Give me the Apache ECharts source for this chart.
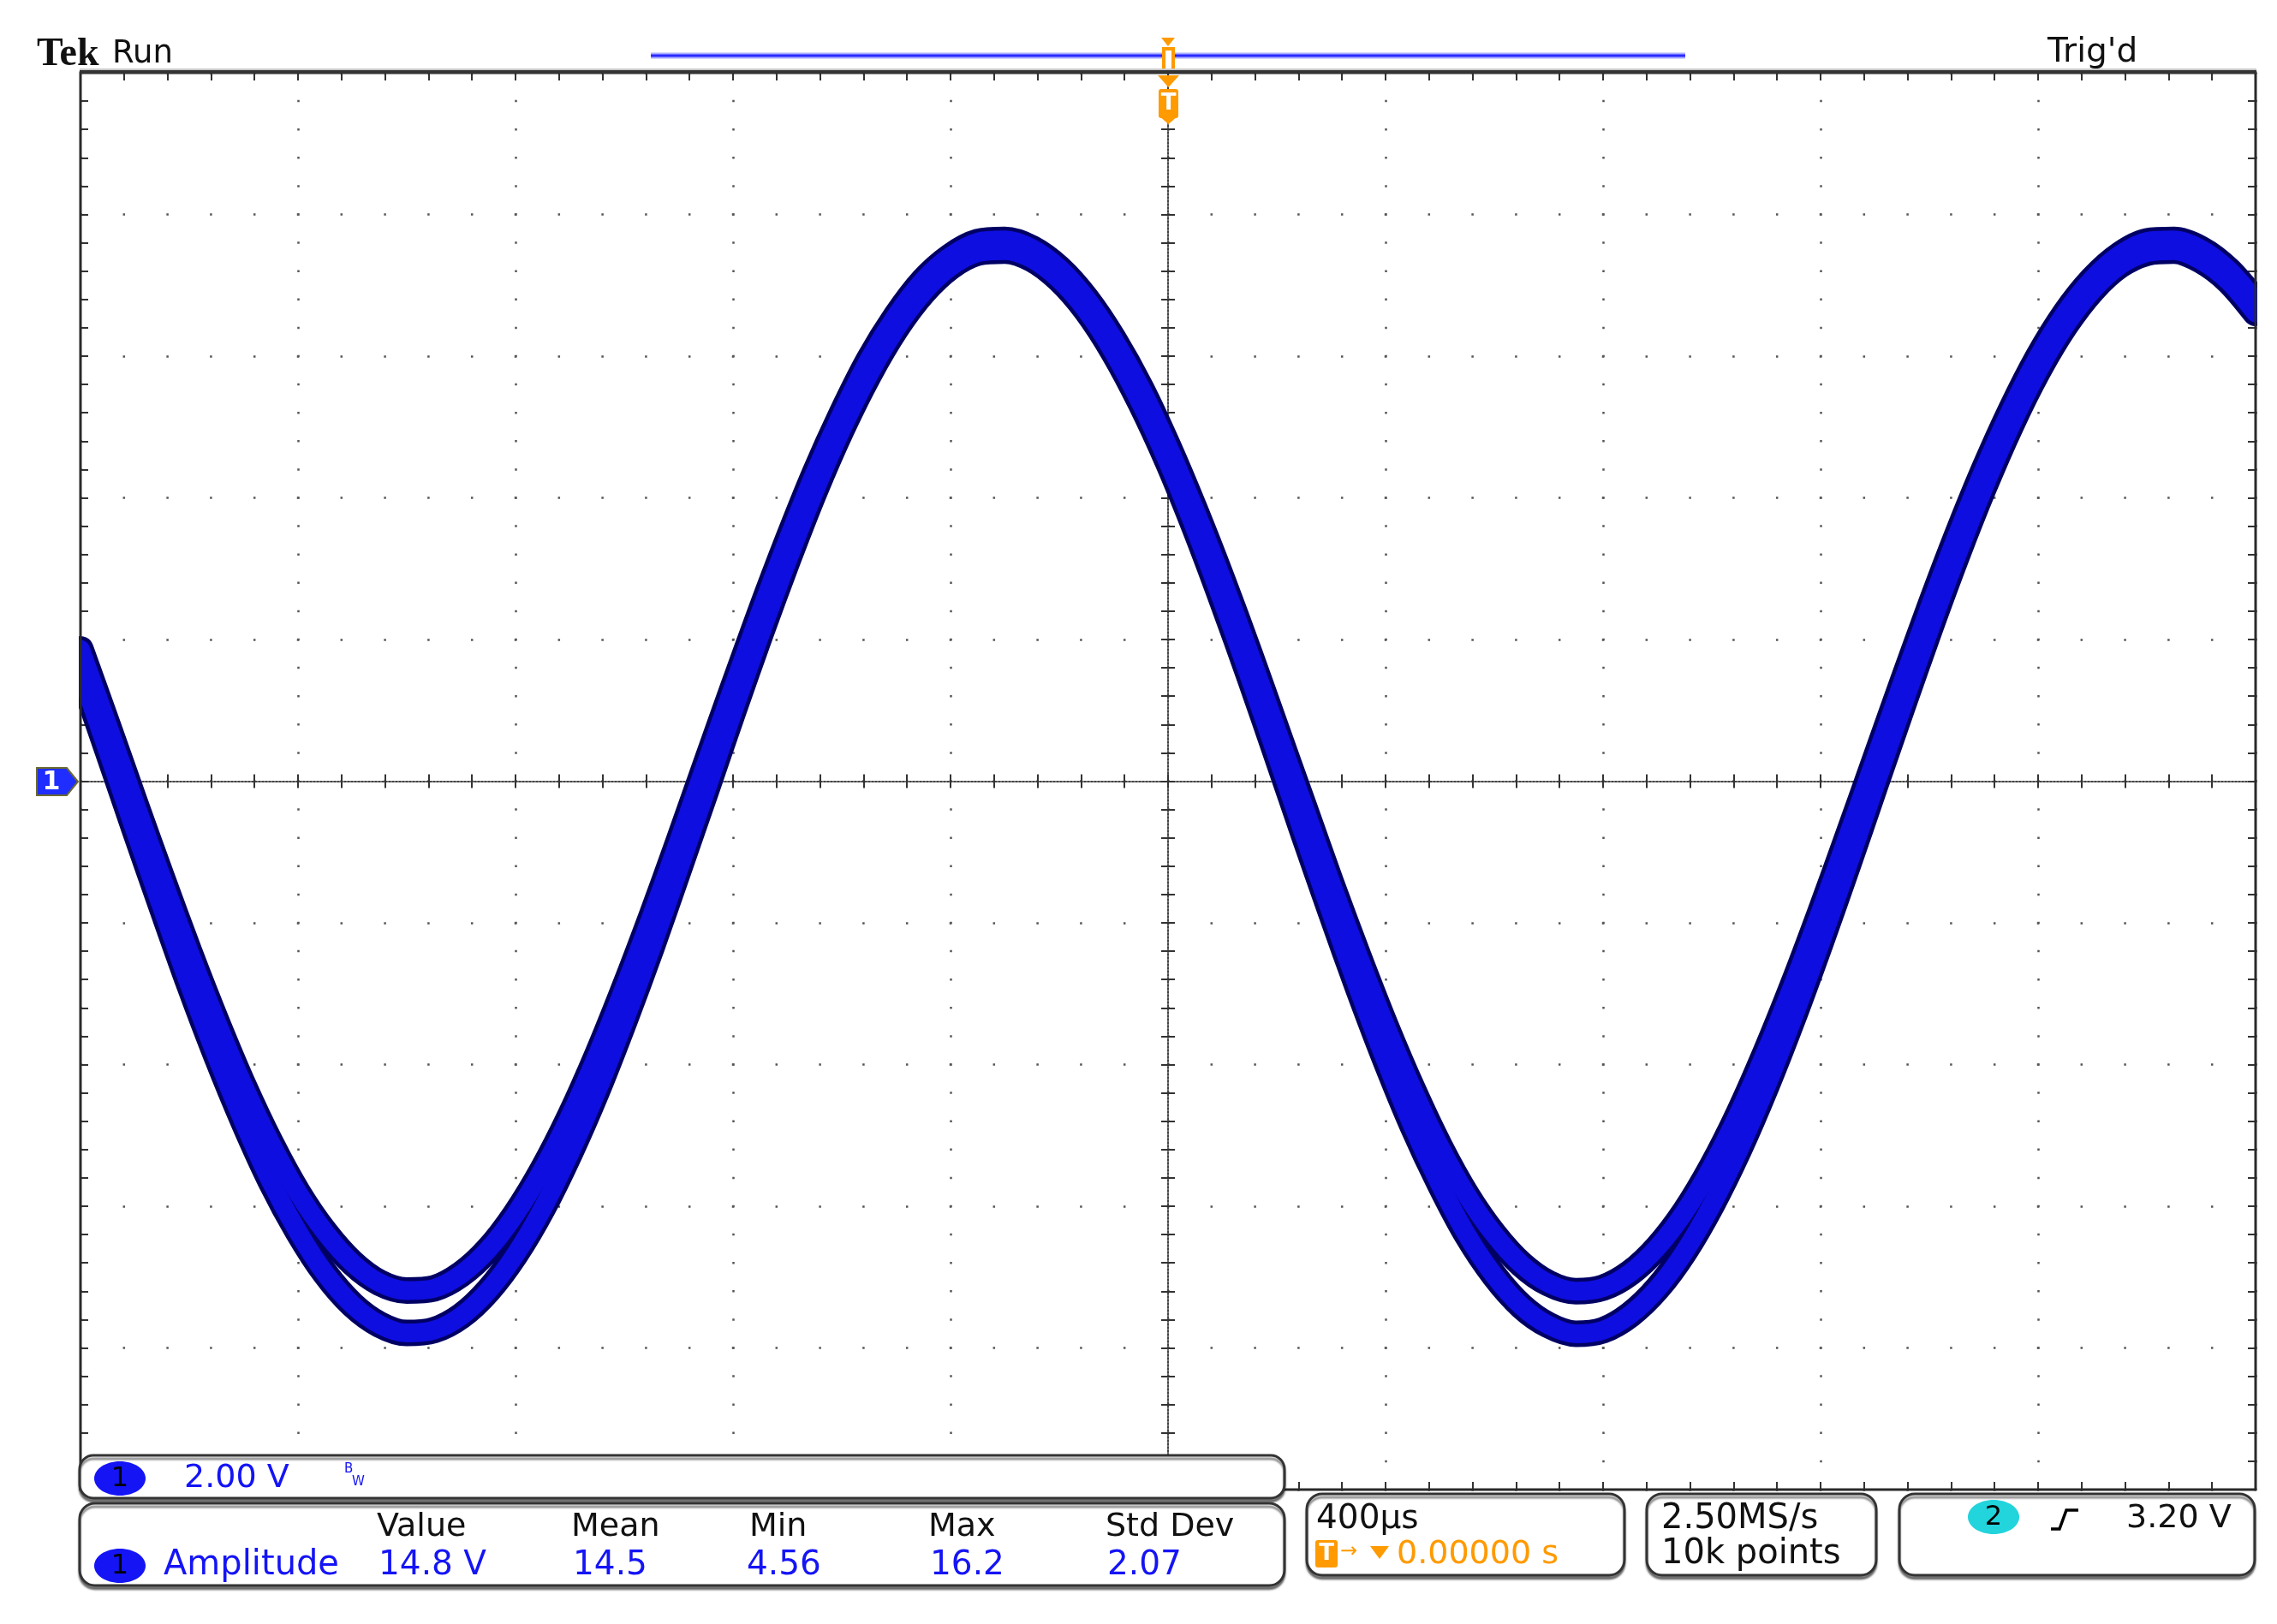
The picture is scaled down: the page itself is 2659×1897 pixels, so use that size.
<!DOCTYPE html>
<html>
<head>
<meta charset="utf-8">
<script src="https://cdn.jsdelivr.net/npm/echarts@6/dist/echarts.min.js"></script>
<style>
html,body{margin:0;padding:0;background:#fff;}
#chart{width:2659px;height:1897px;}
</style>
</head>
<body>
<div id="chart"></div>
<script>
const timeUs = [-2000,-1950,-1900,-1850,-1800,-1750,-1700,-1650,-1600,-1550,
  -1500,-1450,-1400,-1350,-1300,-1250,-1200,-1150,-1100,-1050,
  -1000,-950,-900,-850,-800,-750,-700,-650,-600,-550,
  -500,-450,-400,-350,-300,-250,-200,-150,-100,-50,
  0,50,100,150,200,250,300,350,400,450,
  500,550,600,650,700,750,800,850,900,950,
  1000,1050,1100,1150,1200,1250,1300,1350,1400,1450,
  1500,1550,1600,1650,1700,1750,1800,1850,1900,1950,
  2000];
// upper edge of the persistence band (V)
const ch1Upper = [1.86,0.79,-0.30,-1.37,-2.41,-3.39,-4.30,-5.11,-5.81,-6.37,
  -6.80,-7.08,-7.19,-7.16,-6.96,-6.61,-6.11,-5.48,-4.73,-3.87,
  -2.92,-1.91,-0.85,0.24,1.32,2.38,3.39,4.34,5.19,5.95,
  6.57,7.07,7.41,7.61,7.64,7.52,7.24,6.81,6.24,5.55,
  4.73,3.82,2.84,1.80,0.72,-0.36,-1.44,-2.47,-3.45,-4.35,
  -5.16,-5.85,-6.40,-6.82,-7.09,-7.20,-7.15,-6.94,-6.58,-6.08,
  -5.44,-4.68,-3.81,-2.86,-1.84,-0.78,0.30,1.38,2.44,3.45,
  4.39,5.24,5.99,6.61,7.09,7.43,7.62,7.64,7.51,7.22,
  6.78];
// lower edge of the persistence band (V)
const ch1Lower = [1.54,0.43,-0.69,-1.79,-2.87,-3.88,-4.81,-5.65,-6.36,-6.95,
  -7.39,-7.67,-7.79,-7.75,-7.55,-7.19,-6.68,-6.03,-5.25,-4.37,
  -3.39,-2.35,-1.25,-0.14,0.98,2.07,3.11,4.09,4.97,5.74,
  6.39,6.90,7.26,7.46,7.49,7.37,7.08,6.64,6.05,5.33,
  4.50,3.56,2.54,1.47,0.36,-0.76,-1.86,-2.93,-3.94,-4.87,
  -5.69,-6.41,-6.98,-7.41,-7.68,-7.80,-7.75,-7.53,-7.16,-6.64,
  -5.98,-5.20,-4.31,-3.33,-2.28,-1.19,-0.07,1.04,2.13,3.17,
  4.14,5.02,5.79,6.43,6.93,7.28,7.46,7.49,7.35,7.06,
  6.61];
const timeRange = [-2000, 2000];   // 400 µs/div, 10 div
const timePerDiv = 400;
const voltRange = [-10, 10];       // 2.00 V/div, 10 div
const voltPerDiv = 2;
const measHeaders = ['Value','Mean','Min','Max','Std Dev'];
const measValues = ['14.8 V','14.5','4.56','16.2','2.07'];
const measName = 'Amplitude';
const chScale = '2.00 V';
const timebase = '400µs';
const trigPos = '0.00000 s';
const sampleRate = '2.50MS/s';
const recordLen = '10k points';
const trigLevel = '3.20 V';

// ---- layout ----
const G = {left: 94, top: 85, width: 2540, height: 1655};
const FONT = '"DejaVu Sans", "Liberation Sans", sans-serif';
const TICK = {color:'#333', width:2};

function pairs(xs, ys){ return xs.map((x,i)=>[x, ys[i]]); }

function xAx(extra){
  return Object.assign({type:'value', min:timeRange[0], max:timeRange[1], interval:timePerDiv,
    axisLabel:{show:false}, splitLine:{show:false}}, extra);
}
function yAx(extra){
  return Object.assign({type:'value', min:voltRange[0], max:voltRange[1], interval:voltPerDiv,
    axisLabel:{show:false}, splitLine:{show:false}}, extra);
}
const frameTick = {show:true, inside:true, length:9, lineStyle:TICK};
const frameMinor = {show:true, splitNumber:5, length:9, lineStyle:TICK};
const ctrTick = {show:true, inside:false, length:8, lineStyle:TICK};
const ctrMinor = {show:true, splitNumber:5, length:8, lineStyle:TICK};
const dotted = {color:'#444', width:2, type:[2,2]};

const xAxes = [
  xAx({position:'bottom', axisLine:{show:false,onZero:false}, axisTick:frameTick, minorTick:frameMinor,
       splitLine:{show:true, lineStyle:{color:'#555', width:2.5, type:[2.5, 30.6], dashOffset:1.25}}}),
  xAx({position:'top', axisLine:{show:false,onZero:false}, axisTick:frameTick, minorTick:frameMinor}),
  xAx({position:'bottom', axisLine:{show:true,onZero:true,onZeroAxisIndex:0,lineStyle:dotted}, axisTick:ctrTick, minorTick:ctrMinor}),
  xAx({position:'top', axisLine:{show:false,onZero:true,onZeroAxisIndex:0}, axisTick:ctrTick, minorTick:ctrMinor})
];
const yAxes = [
  yAx({position:'left', axisLine:{show:false,onZero:false}, axisTick:frameTick, minorTick:frameMinor,
       splitLine:{show:true, lineStyle:{color:'#555', width:2.5, type:[2.5, 48.3], dashOffset:1.25}}}),
  yAx({position:'right', axisLine:{show:false,onZero:false}, axisTick:frameTick, minorTick:frameMinor}),
  yAx({position:'left', axisLine:{show:true,onZero:true,onZeroAxisIndex:0,lineStyle:dotted}, axisTick:ctrTick, minorTick:ctrMinor}),
  yAx({position:'right', axisLine:{show:false,onZero:true,onZeroAxisIndex:0}, axisTick:ctrTick, minorTick:ctrMinor})
];

function traceSeries(name, vals, width, color, z){
  return {type:'line', name, data:pairs(timeUs, vals), xAxisIndex:0, yAxisIndex:0,
    symbol:'none', showSymbol:false, smooth:0.3, silent:true, z, clip:true,
    lineStyle:{width, color, cap:'round', join:'round'}};
}

// ---- graphic helpers (annotations / readouts) ----
function txt(x, y, s, size, color, extra){
  return {type:'text', x, y, z:120, silent:true,
    style:Object.assign({text:s, fill:color, font:size+'px '+FONT, align:'left', verticalAlign:'middle'}, extra||{})};
}
function box(x, y, w, h, r){
  return {type:'rect', z:100, silent:true, shape:{x, y, width:w, height:h, r},
    style:{fill:'#fff', stroke:'#333', lineWidth:3, shadowColor:'rgba(0,0,0,0.45)', shadowOffsetY:4, shadowBlur:2}};
}
function chip(cx, cy, label, fill){
  return [
    {type:'ellipse', z:115, silent:true, shape:{cx, cy, rx:30, ry:20}, style:{fill}},
    txt(cx, cy+1, label, 32, '#000', {align:'center'})
  ];
}
const BLUE = '#1414f5';
const ORANGE = '#ff9a00';

const graphics = [
  // masks beside the graticule (hide trace overflow)
  {type:'rect', z:55, silent:true, shape:{x:0, y:86, width:92, height:790}, style:{fill:'#fff'}},
  {type:'rect', z:55, silent:true, shape:{x:2636, y:86, width:30, height:1654}, style:{fill:'#fff'}},
  // graticule frame
  {type:'rect', z:60, silent:true, shape:{x:G.left, y:G.top, width:G.width, height:G.height},
    style:{fill:null, stroke:'#2a2a2a', lineWidth:3}},
  {type:'line', z:61, silent:true, shape:{x1:G.left-1, y1:G.top-1, x2:G.left+G.width+1, y2:G.top-1},
    style:{stroke:'#333', lineWidth:4}},
  {type:'line', z:61, silent:true, shape:{x1:G.left-1, y1:G.top-4, x2:G.left+G.width+1, y2:G.top-4},
    style:{stroke:'#c8c8c8', lineWidth:2}},
  // header
  txt(43, 64, 'Tek', 46, '#111', {font:'bold 46px "Liberation Serif", "DejaVu Serif", serif'}),
  txt(131, 63, 'Run', 37, '#111'),
  txt(2391, 62, "Trig'd", 39, '#111'),
  // record view bar
  {type:'line', z:20, silent:true, shape:{x1:760, y1:65, x2:1968, y2:65}, style:{stroke:'#aab0ff', lineWidth:7}},
  {type:'line', z:21, silent:true, shape:{x1:760, y1:65, x2:1968, y2:65}, style:{stroke:'#2a2aff', lineWidth:3}},
  // small trigger marker on record bar
  {type:'polygon', z:30, silent:true, shape:{points:[[1356,44],[1372,44],[1364,54]]}, style:{fill:ORANGE}},
  {type:'rect', z:30, silent:true, shape:{x:1357, y:55, width:15, height:30}, style:{fill:ORANGE}},
  {type:'rect', z:31, silent:true, shape:{x:1361, y:59, width:7, height:22}, style:{fill:'#fff'}},
  // trigger position marker below the frame top
  {type:'polygon', z:70, silent:true, shape:{points:[[1352,88],[1377,88],[1364.5,102]]}, style:{fill:ORANGE}},
  {type:'rect', z:70, silent:true, shape:{x:1353, y:104, width:23, height:34, r:3}, style:{fill:ORANGE}},
  {type:'polygon', z:70, silent:true, shape:{points:[[1353,135],[1376,135],[1364.5,145]]}, style:{fill:ORANGE}},
  txt(1364.5, 121, 'T', 26, '#fff', {align:'center', font:'bold 26px '+FONT}),
  // channel 1 ground marker
  {type:'polygon', z:70, silent:true, shape:{points:[[43,897],[78,897],[91,913],[78,929],[43,929]]},
    style:{fill:'#1f2dff', stroke:'#6a6a30', lineWidth:2}},
  txt(60, 914, '1', 30, '#fff', {align:'center', font:'bold 30px '+FONT}),
  // readout boxes
  box(93, 1700, 1407, 50, 16),
  box(93, 1756, 1407, 96, 18),
  box(1526, 1745, 371, 95, 18),
  box(1923, 1745, 268, 95, 18),
  box(2218, 1745, 415, 95, 18),
  ...chip(140, 1727, '1', BLUE),
  txt(215, 1727, chScale, 38, BLUE),
  txt(402, 1716, 'B', 15, BLUE),
  txt(411, 1731, 'W', 15, BLUE),
  ...chip(140, 1829, '1', BLUE),
  txt(191, 1829, measName, 40, BLUE),
  // rising-edge trigger symbol
  {type:'polyline', z:120, silent:true, shape:{points:[[2395,1786],[2405,1786],[2413,1764],[2427,1764]]},
    style:{stroke:'#000', lineWidth:3.5, fill:null}},
  ...chip(2328, 1772, '2', '#22d4dc'),
  txt(2483, 1774, trigLevel, 38, '#111'),
  txt(1537, 1775, timebase, 39, '#111'),
  {type:'rect', z:115, silent:true, shape:{x:1536, y:1799, width:26, height:32, r:3}, style:{fill:ORANGE}},
  txt(1549, 1815, 'T', 26, '#fff', {align:'center', font:'bold 26px '+FONT}),
  txt(1565, 1813, '→', 24, ORANGE),
  {type:'polygon', z:115, silent:true, shape:{points:[[1600,1806],[1622,1806],[1611,1821]]}, style:{fill:ORANGE}},
  txt(1631, 1816, trigPos, 38, ORANGE),
  txt(1940, 1775, sampleRate, 40, '#111'),
  txt(1940, 1816, recordLen, 40, '#111')
];
const headerX = [440, 667, 875, 1084, 1291];
measHeaders.forEach((h,i)=>graphics.push(txt(headerX[i], 1784, h, 38, '#111')));
measValues.forEach((v,i)=>graphics.push(txt(headerX[i] + (i===2 ? -3 : 2), 1829, v, 39, BLUE)));

const option = {
  animation:false,
  backgroundColor:'#fff',
  grid:{left:G.left, top:G.top, width:G.width, height:G.height, show:true, backgroundColor:'#fff', borderWidth:0, containLabel:false},
  xAxis:xAxes,
  yAxis:yAxes,
  series:[
    traceSeries('CH1 lower (edge)', ch1Lower, 31, '#000064', 3),
    traceSeries('CH1 upper (edge)', ch1Upper, 31, '#000064', 3),
    traceSeries('CH1 lower', ch1Lower, 22, '#0e0ee0', 4),
    traceSeries('CH1 upper', ch1Upper, 22, '#0e0ee0', 4)
  ],
  graphic:{elements:graphics}
};
const chart = echarts.init(document.getElementById('chart'), null, {renderer:'canvas'});
chart.setOption(option);
</script>
</body>
</html>
